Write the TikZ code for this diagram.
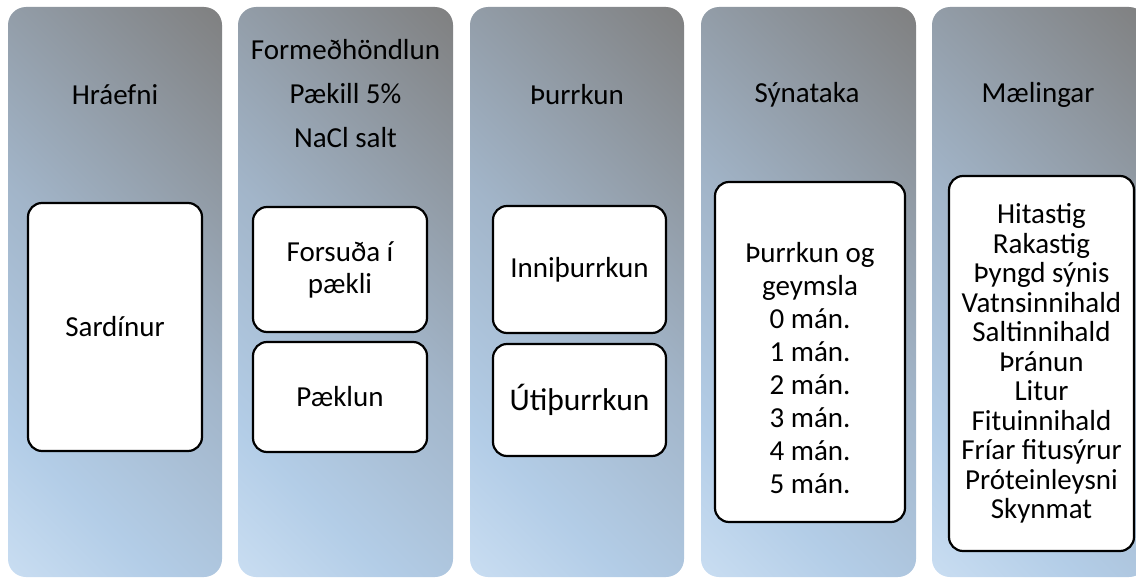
\documentclass[tikz,border=0pt]{standalone}
\usepackage{fontspec}
\setmainfont{Carlito}
\definecolor{g1}{HTML}{7F7F7F}
\definecolor{g2}{HTML}{A2B5C9}
\definecolor{g3}{HTML}{B3CDE7}
\definecolor{g4}{HTML}{CADEF2}
\pgfdeclareverticalshading{colgrad}{100bp}{color(0bp)=(g1); color(14bp)=(g1); color(50bp)=(g2); color(72bp)=(g3); color(86bp)=(g4); color(100bp)=(g4)}
\begin{document}
\begin{tikzpicture}[x=1pt,y=-1pt,
  colbox/.style={shade, shading=colgrad, shading angle=135, rounded corners=18pt,
    draw=none, inner sep=0pt, minimum width=214pt, minimum height=570pt},
  title/.style={align=center, inner sep=0pt, font=\fontsize{29}{44}\selectfont},
  itembox/.style={draw=black, line width=2.2pt, fill=white, rounded corners=14pt,
    inner sep=0pt, align=center, font=\fontsize{29}{32}\selectfont}
]
\useasboundingbox (0,0) rectangle (1136,578);
\begin{scope}
\clip (0,0) rectangle (1136,578);
% columns
\node[colbox] (c1) at (115,292) {};
\node[colbox, minimum width=215pt] (c2) at (345.5,292) {};
\node[colbox] (c3) at (577,292) {};
\node[colbox, minimum width=215pt] (c4) at (808.5,292) {};
\node[colbox, minimum width=215pt] (c5) at (1039.5,292) {};
% titles
\node[title] (t1) at (115,95) {Hráefni};
\node[title] (t2) at (345.5,94) {Formeðhöndlun\\Pækill 5\%\\NaCl salt};
\node[title] (t3) at (577,95) {Þurrkun};
\node[title] (t4) at (807,95) {Sýnataka};
\node[title] (t5) at (1038,95) {Mælingar};
% boxes
\node[itembox, minimum width=174pt, minimum height=248pt] (b1) at (115,327) {Sardínur};
\node[itembox, minimum width=174pt, minimum height=125pt] (b2a) at (340,269.5) {Forsuða í\\pækli};
\node[itembox, minimum width=174pt, minimum height=110pt] (b2b) at (340,397) {Pæklun};
\node[itembox, minimum width=173pt, minimum height=127pt] (b3a) at (579.5,269.5) {Inniþurrkun};
\node[itembox, minimum width=173pt, minimum height=112pt, font=\fontsize{31.5}{34}\selectfont] (b3b) at (579.5,400) {Útiþurrkun};
\node[itembox, minimum width=190pt, minimum height=340pt] (b4) at (810,352) {};
\node[align=center, inner sep=0pt, font=\fontsize{29}{33}\selectfont] (b4t) at (810,368.5)
  {Þurrkun og\\geymsla\\0 mán.\\1 mán.\\2 mán.\\3 mán.\\4 mán.\\5 mán.};
\node[itembox, minimum width=185pt, minimum height=375pt, font=\fontsize{29}{29.5}\selectfont] (b5) at (1041.5,363.5)
  {Hitastig\\Rakastig\\Þyngd sýnis\\Vatnsinnihald\\Saltinnihald\\Þránun\\Litur\\Fituinnihald\\Fríar fitusýrur\\Próteinleysni\\Skynmat};
\end{scope}
\end{tikzpicture}
\end{document}
